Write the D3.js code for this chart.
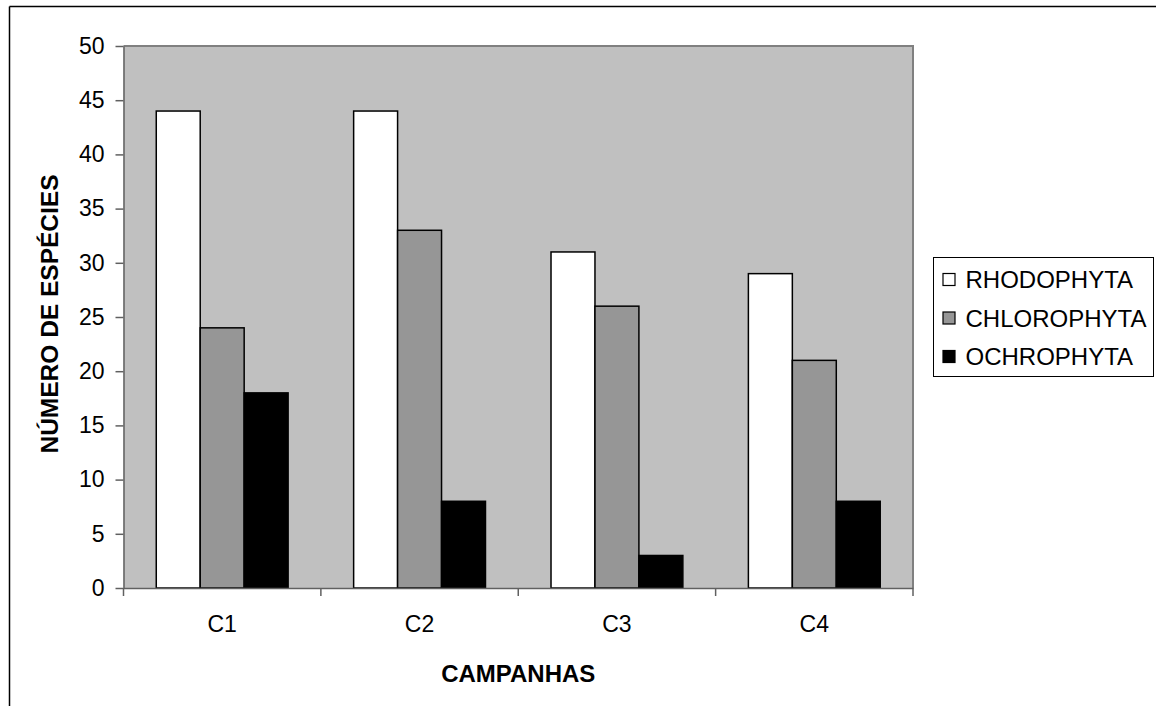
<!DOCTYPE html>
<html>
<head>
<meta charset="utf-8">
<script src="https://cdn.jsdelivr.net/npm/d3@7"></script>
<style>
  html, body { margin: 0; padding: 0; background: #fff; }
  svg { display: block; }
  text { font-family: "Liberation Sans", Arial, sans-serif; fill: #000; }
</style>
</head>
<body>
<svg id="chart" width="1156" height="706"></svg>
<script>
const categories = ["C1", "C2", "C3", "C4"];
const seriesNames = ["RHODOPHYTA", "CHLOROPHYTA", "OCHROPHYTA"];
const rhodophyta = [44, 44, 31, 29];
const chlorophyta = [24, 33, 26, 21];
const ochrophyta = [18, 8, 3, 8];
const yTicks = [0, 5, 10, 15, 20, 25, 30, 35, 40, 45, 50];
const seriesColors = ["#FFFFFF", "#969696", "#000000"];
const yTitle = "NÚMERO DE ESPÉCIES";
const xTitle = "CAMPANHAS";

const seriesValues = [rhodophyta, chlorophyta, ochrophyta];
const rows = categories.map((c, i) => ({ cat: c, vals: seriesValues.map(s => s[i]) }));

const svg = d3.select("#chart");
const W = 1156, H = 706;
const plot = { left: 123.5, right: 913, top: 46, bottom: 588 };
const tickFont = 23, titleFont = 24, legendFont = 24;

// outer chart border (only top and left visible)
svg.append("line").attr("x1", 9.5).attr("x2", W).attr("y1", 6.5).attr("y2", 6.5)
  .attr("stroke", "#000").attr("stroke-width", 1.5);
svg.append("line").attr("x1", 9.5).attr("x2", 9.5).attr("y1", 6.5).attr("y2", H)
  .attr("stroke", "#000").attr("stroke-width", 1.5);

const x0 = d3.scaleBand().domain(categories).range([plot.left, plot.right]).paddingInner(0).paddingOuter(0);
const groupPad = 0.166;
const x1 = d3.scaleBand().domain(seriesNames)
  .range([x0.bandwidth() * groupPad, x0.bandwidth() * (1 - groupPad)]).padding(0);
const y = d3.scaleLinear().domain([0, 50]).range([plot.bottom, plot.top]);

// plot background
svg.append("rect")
  .attr("x", plot.left).attr("y", plot.top)
  .attr("width", plot.right - plot.left).attr("height", plot.bottom - plot.top)
  .attr("fill", "#C0C0C0");
// plot border top/right
svg.append("path")
  .attr("d", `M${plot.left},${plot.top}H${plot.right}V${plot.bottom}`)
  .attr("fill", "none").attr("stroke", "#808080").attr("stroke-width", 2);

// bars
const groups = svg.append("g").selectAll("g").data(rows).join("g")
  .attr("transform", d => `translate(${x0(d.cat)},0)`);
groups.selectAll("rect").data(d => d.vals.map((v, i) => ({ v, i })))
  .join("rect")
  .attr("x", d => x1(seriesNames[d.i]))
  .attr("y", d => y(d.v))
  .attr("width", x1.bandwidth())
  .attr("height", d => y(0) - y(d.v))
  .attr("fill", d => seriesColors[d.i])
  .attr("stroke", "#000").attr("stroke-width", 1.5);

// y axis
const yAxis = d3.axisLeft(y).tickValues(yTicks).tickSize(8).tickPadding(11).tickSizeOuter(0);
const gy = svg.append("g").attr("transform", `translate(${plot.left},0)`).call(yAxis);
gy.select(".domain").attr("stroke", "#606060").attr("stroke-width", 1.5);
gy.selectAll(".tick line").attr("stroke", "#606060").attr("stroke-width", 1.5);
gy.selectAll(".tick text").attr("font-size", tickFont).attr("font-family", "Liberation Sans, Arial, sans-serif").attr("fill", "#000");

// x axis
const xAxis = d3.axisBottom(x0).tickSize(0).tickPadding(28);
const gx = svg.append("g").attr("transform", `translate(0,${plot.bottom})`).call(xAxis);
gx.select(".domain").attr("stroke", "#606060").attr("stroke-width", 1.5);
gx.selectAll(".tick text").attr("font-size", tickFont).attr("font-family", "Liberation Sans, Arial, sans-serif").attr("fill", "#000");
// category boundary ticks
const bounds = categories.map(c => x0(c)).concat([plot.right]);
gx.selectAll(".bound").data(bounds).join("line").attr("class", "bound")
  .attr("x1", d => d).attr("x2", d => d).attr("y1", 0).attr("y2", 8)
  .attr("stroke", "#606060").attr("stroke-width", 1.5);

// axis titles
svg.append("text")
  .attr("transform", `translate(58,${(plot.top + plot.bottom) / 2 - 3}) rotate(-90)`)
  .attr("text-anchor", "middle")
  .attr("font-size", 24.5).attr("font-weight", "bold")
  .text(yTitle);
svg.append("text")
  .attr("x", (plot.left + plot.right) / 2).attr("y", 682)
  .attr("text-anchor", "middle")
  .attr("font-size", titleFont).attr("font-weight", "bold")
  .text(xTitle);

// legend
const lg = svg.append("g").attr("transform", "translate(933.5,257.5)");
lg.append("rect").attr("width", 220).attr("height", 119)
  .attr("fill", "#fff").attr("stroke", "#000").attr("stroke-width", 1);
const items = lg.selectAll(".item").data(seriesNames).join("g").attr("class", "item")
  .attr("transform", (d, i) => `translate(0,${22 + i * 38.5})`);
items.append("rect").attr("x", 9.5).attr("y", -6).attr("width", 12).attr("height", 12)
  .attr("fill", (d, i) => seriesColors[i]).attr("stroke", "#000").attr("stroke-width", 1.2);
items.append("text").attr("x", 32).attr("y", 8.5).attr("font-size", legendFont).text(d => d);
</script>
</body>
</html>
